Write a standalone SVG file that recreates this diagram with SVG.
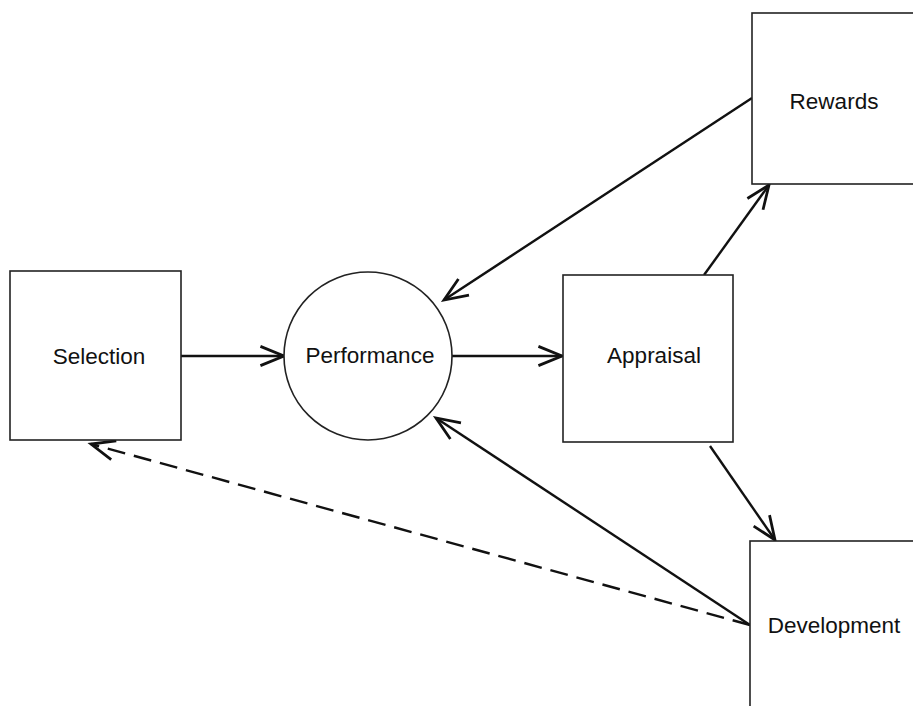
<svg xmlns="http://www.w3.org/2000/svg" width="913" height="706" viewBox="0 0 913 706">
<style>
.box{fill:#fff;stroke:#222;stroke-width:1.6}
.lbl{font-family:"Liberation Sans",Arial,sans-serif;font-size:22.5px;fill:#111;text-anchor:middle}
.con{stroke:#111;stroke-width:2.4;fill:none}
.dash{stroke-dasharray:18 9}
</style>
<defs>
<marker id="ah" markerUnits="userSpaceOnUse" markerWidth="30" markerHeight="30" viewBox="-24 -12 28 24" refX="0" refY="0" orient="auto">
<path d="M-22,-9 L0,0 L-22,9" fill="none" stroke="#111" stroke-width="2.6" stroke-linejoin="miter"/>
</marker>
</defs>
<rect width="913" height="706" fill="#fff"/>
<g id="connectors">
<line class="con" x1="181" y1="356" x2="284" y2="356" marker-end="url(#ah)"/>
<line class="con" x1="452" y1="356" x2="562" y2="356" marker-end="url(#ah)"/>
<line class="con" x1="752" y1="98" x2="444" y2="300" marker-end="url(#ah)"/>
<line class="con" x1="750" y1="625" x2="436" y2="418" marker-end="url(#ah)"/>
<line class="con" x1="704" y1="275" x2="769" y2="185" marker-end="url(#ah)"/>
<line class="con" x1="710" y1="446" x2="775" y2="540" marker-end="url(#ah)"/>
<line class="con dash" x1="750" y1="625" x2="91" y2="444" marker-end="url(#ah)"/>
</g>
<g id="selection">
<rect class="box" x="10" y="271" width="171" height="169"/>
<text class="lbl" x="99" y="364">Selection</text>
</g>
<g id="performance">
<circle class="box" cx="368" cy="356" r="84"/>
<text class="lbl" x="370" y="363">Performance</text>
</g>
<g id="appraisal">
<rect class="box" x="563" y="275" width="170" height="167"/>
<text class="lbl" x="654" y="363">Appraisal</text>
</g>
<g id="rewards">
<rect class="box" x="752" y="13" width="170" height="171"/>
<text class="lbl" x="834" y="109">Rewards</text>
</g>
<g id="development">
<rect class="box" x="750" y="541" width="170" height="175"/>
<text class="lbl" x="834" y="633">Development</text>
</g>
</svg>
